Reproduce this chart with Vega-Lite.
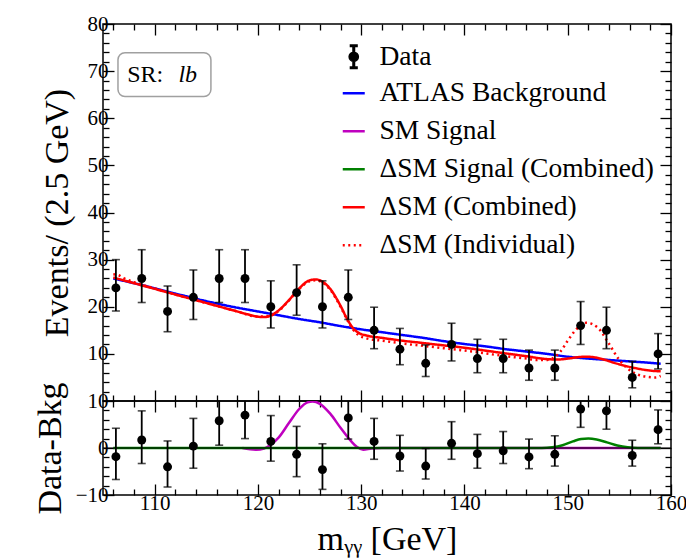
{
  "$schema": "https://vega.github.io/schema/vega-lite/v6.json",
  "background": "white",
  "padding": {"left": 32, "top": 12, "right": 0, "bottom": 4},
  "spacing": 0,
  "bounds": "flush",
  "config": {
    "font": "Liberation Serif",
    "view": {"stroke": "black", "strokeWidth": 1.5},
    "axis": {"grid": false, "domain": false, "labelFont": "Liberation Serif", "labelFontSize": 21, "labelColor": "black", "titleFont": "Liberation Serif", "titleFontSize": 34, "titleFontWeight": "normal", "titleColor": "black", "tickColor": "black", "tickWidth": 1.3, "labelOverlap": false, "labelFlush": false},
    "legend": {"labelFont": "Liberation Serif", "labelFontSize": 27.5, "labelColor": "black", "symbolSize": 484, "rowPadding": 9, "labelOffset": 12, "labelLimit": 500}
  },
  "datasets": {
    "curves": [
      {"x":106,"y":26.0,"s":"ATLAS Background"},{"x":108,"y":25.0,"s":"ATLAS Background"},{"x":110,"y":23.9,"s":"ATLAS Background"},{"x":112,"y":22.8,"s":"ATLAS Background"},{"x":114,"y":21.7,"s":"ATLAS Background"},{"x":116,"y":20.7,"s":"ATLAS Background"},{"x":118,"y":19.8,"s":"ATLAS Background"},{"x":120,"y":19.0,"s":"ATLAS Background"},{"x":122,"y":18.2,"s":"ATLAS Background"},{"x":124,"y":17.4,"s":"ATLAS Background"},{"x":126,"y":16.7,"s":"ATLAS Background"},{"x":128,"y":15.9,"s":"ATLAS Background"},{"x":130,"y":15.2,"s":"ATLAS Background"},{"x":132,"y":14.6,"s":"ATLAS Background"},{"x":134,"y":14.0,"s":"ATLAS Background"},{"x":136,"y":13.4,"s":"ATLAS Background"},{"x":138,"y":12.7,"s":"ATLAS Background"},{"x":140,"y":12.1,"s":"ATLAS Background"},{"x":142,"y":11.6,"s":"ATLAS Background"},{"x":144,"y":11.0,"s":"ATLAS Background"},{"x":146,"y":10.5,"s":"ATLAS Background"},{"x":148,"y":10.0,"s":"ATLAS Background"},{"x":150,"y":9.4,"s":"ATLAS Background"},{"x":152,"y":9.0,"s":"ATLAS Background"},{"x":154,"y":8.7,"s":"ATLAS Background"},{"x":156,"y":8.4,"s":"ATLAS Background"},{"x":158,"y":8.1,"s":"ATLAS Background"},{"x":159,"y":7.9,"s":"ATLAS Background"},
      {"x":106,"y":26.2,"s":"ΔSM (Combined)"},{"x":107,"y":25.6,"s":"ΔSM (Combined)"},{"x":108,"y":25.0,"s":"ΔSM (Combined)"},{"x":110,"y":23.8,"s":"ΔSM (Combined)"},{"x":112,"y":22.6,"s":"ΔSM (Combined)"},{"x":114,"y":21.4,"s":"ΔSM (Combined)"},{"x":116,"y":20.2,"s":"ΔSM (Combined)"},{"x":118,"y":19.0,"s":"ΔSM (Combined)"},{"x":119,"y":18.4,"s":"ΔSM (Combined)"},{"x":120,"y":17.9,"s":"ΔSM (Combined)"},{"x":120.7,"y":17.8,"s":"ΔSM (Combined)"},{"x":121.3,"y":18.2,"s":"ΔSM (Combined)"},{"x":122,"y":19.2,"s":"ΔSM (Combined)"},{"x":123,"y":21.4,"s":"ΔSM (Combined)"},{"x":124,"y":23.9,"s":"ΔSM (Combined)"},{"x":125,"y":25.6,"s":"ΔSM (Combined)"},{"x":125.6,"y":25.8,"s":"ΔSM (Combined)"},{"x":126.2,"y":25.4,"s":"ΔSM (Combined)"},{"x":127,"y":23.8,"s":"ΔSM (Combined)"},{"x":128,"y":20.2,"s":"ΔSM (Combined)"},{"x":128.6,"y":17.6,"s":"ΔSM (Combined)"},{"x":129.2,"y":15.5,"s":"ΔSM (Combined)"},{"x":129.8,"y":14.4,"s":"ΔSM (Combined)"},{"x":130.5,"y":13.9,"s":"ΔSM (Combined)"},{"x":132,"y":13.4,"s":"ΔSM (Combined)"},{"x":134,"y":12.8,"s":"ΔSM (Combined)"},{"x":136,"y":12.3,"s":"ΔSM (Combined)"},{"x":138,"y":11.8,"s":"ΔSM (Combined)"},{"x":140,"y":11.3,"s":"ΔSM (Combined)"},{"x":142,"y":10.7,"s":"ΔSM (Combined)"},{"x":144,"y":10.1,"s":"ΔSM (Combined)"},{"x":146,"y":9.5,"s":"ΔSM (Combined)"},{"x":148,"y":8.9,"s":"ΔSM (Combined)"},{"x":149,"y":8.8,"s":"ΔSM (Combined)"},{"x":150,"y":9.0,"s":"ΔSM (Combined)"},{"x":151,"y":9.3,"s":"ΔSM (Combined)"},{"x":151.8,"y":9.4,"s":"ΔSM (Combined)"},{"x":152.5,"y":9.3,"s":"ΔSM (Combined)"},{"x":153.5,"y":8.8,"s":"ΔSM (Combined)"},{"x":154.5,"y":8.1,"s":"ΔSM (Combined)"},{"x":155.5,"y":7.5,"s":"ΔSM (Combined)"},{"x":156.5,"y":7.0,"s":"ΔSM (Combined)"},{"x":157.5,"y":6.6,"s":"ΔSM (Combined)"},{"x":158.5,"y":6.35,"s":"ΔSM (Combined)"},{"x":159,"y":6.3,"s":"ΔSM (Combined)"},
      {"x":106,"y":26.9,"s":"ΔSM (Individual)"},{"x":106.5,"y":26.7,"s":"ΔSM (Individual)"},{"x":107,"y":26.1,"s":"ΔSM (Individual)"},{"x":108,"y":25.2,"s":"ΔSM (Individual)"},{"x":110,"y":23.9,"s":"ΔSM (Individual)"},{"x":112,"y":22.6,"s":"ΔSM (Individual)"},{"x":114,"y":21.4,"s":"ΔSM (Individual)"},{"x":116,"y":20.2,"s":"ΔSM (Individual)"},{"x":118,"y":19.0,"s":"ΔSM (Individual)"},{"x":120,"y":17.9,"s":"ΔSM (Individual)"},{"x":121,"y":18.0,"s":"ΔSM (Individual)"},{"x":122,"y":19.1,"s":"ΔSM (Individual)"},{"x":123,"y":21.3,"s":"ΔSM (Individual)"},{"x":124,"y":23.8,"s":"ΔSM (Individual)"},{"x":125,"y":25.4,"s":"ΔSM (Individual)"},{"x":125.6,"y":25.6,"s":"ΔSM (Individual)"},{"x":126.2,"y":25.2,"s":"ΔSM (Individual)"},{"x":127,"y":23.6,"s":"ΔSM (Individual)"},{"x":128,"y":20.0,"s":"ΔSM (Individual)"},{"x":128.6,"y":17.4,"s":"ΔSM (Individual)"},{"x":129.2,"y":15.2,"s":"ΔSM (Individual)"},{"x":129.8,"y":13.9,"s":"ΔSM (Individual)"},{"x":130.5,"y":13.3,"s":"ΔSM (Individual)"},{"x":132,"y":12.8,"s":"ΔSM (Individual)"},{"x":134,"y":12.2,"s":"ΔSM (Individual)"},{"x":136,"y":11.7,"s":"ΔSM (Individual)"},{"x":138,"y":11.2,"s":"ΔSM (Individual)"},{"x":140,"y":10.7,"s":"ΔSM (Individual)"},{"x":142,"y":10.1,"s":"ΔSM (Individual)"},{"x":144,"y":9.5,"s":"ΔSM (Individual)"},{"x":146,"y":9.0,"s":"ΔSM (Individual)"},{"x":147,"y":8.7,"s":"ΔSM (Individual)"},{"x":148,"y":8.7,"s":"ΔSM (Individual)"},{"x":148.5,"y":9.0,"s":"ΔSM (Individual)"},{"x":149.3,"y":10.5,"s":"ΔSM (Individual)"},{"x":150,"y":12.8,"s":"ΔSM (Individual)"},{"x":150.7,"y":14.9,"s":"ΔSM (Individual)"},{"x":151.8,"y":16.6,"s":"ΔSM (Individual)"},{"x":152.9,"y":15.6,"s":"ΔSM (Individual)"},{"x":153.9,"y":12.5,"s":"ΔSM (Individual)"},{"x":154.9,"y":9.0,"s":"ΔSM (Individual)"},{"x":155.8,"y":6.9,"s":"ΔSM (Individual)"},{"x":156.8,"y":5.6,"s":"ΔSM (Individual)"},{"x":157.8,"y":5.1,"s":"ΔSM (Individual)"},{"x":158.5,"y":5.0,"s":"ΔSM (Individual)"},{"x":159,"y":5.3,"s":"ΔSM (Individual)"},
      {"x":118.5,"y":0,"s":"SM Signal"},{"x":119.8,"y":-0.35,"s":"SM Signal"},{"x":120.6,"y":-0.1,"s":"SM Signal"},{"x":121.3,"y":0.8,"s":"SM Signal"},{"x":122,"y":2.2,"s":"SM Signal"},{"x":123,"y":5.3,"s":"SM Signal"},{"x":124,"y":8.3,"s":"SM Signal"},{"x":124.8,"y":9.7,"s":"SM Signal"},{"x":125.3,"y":9.9,"s":"SM Signal"},{"x":126,"y":9.4,"s":"SM Signal"},{"x":127,"y":7.3,"s":"SM Signal"},{"x":128,"y":4.3,"s":"SM Signal"},{"x":129,"y":1.5,"s":"SM Signal"},{"x":129.6,"y":0.2,"s":"SM Signal"},{"x":130.2,"y":-0.35,"s":"SM Signal"},{"x":131,"y":-0.1,"s":"SM Signal"},{"x":132,"y":0,"s":"SM Signal"},{"x":159,"y":0,"s":"SM Signal"},
      {"x":106,"y":0,"s":"ΔSM Signal (Combined)"},{"x":147.5,"y":0,"s":"ΔSM Signal (Combined)"},{"x":148.5,"y":0.15,"s":"ΔSM Signal (Combined)"},{"x":149.5,"y":0.6,"s":"ΔSM Signal (Combined)"},{"x":150.5,"y":1.4,"s":"ΔSM Signal (Combined)"},{"x":151.3,"y":1.9,"s":"ΔSM Signal (Combined)"},{"x":152,"y":2.0,"s":"ΔSM Signal (Combined)"},{"x":152.8,"y":1.8,"s":"ΔSM Signal (Combined)"},{"x":153.8,"y":1.2,"s":"ΔSM Signal (Combined)"},{"x":154.8,"y":0.55,"s":"ΔSM Signal (Combined)"},{"x":155.8,"y":0.15,"s":"ΔSM Signal (Combined)"},{"x":156.8,"y":0,"s":"ΔSM Signal (Combined)"},{"x":159,"y":0,"s":"ΔSM Signal (Combined)"}
    ],
    "points": [
      {"m":106.25,"n":24,"lo":19.1,"hi":30.0,"r":-1.85,"rlo":-6.7,"rhi":4.2},
      {"m":108.75,"n":26,"lo":20.9,"hi":32.1,"r":1.7,"rlo":-3.3,"rhi":7.9},
      {"m":111.25,"n":19,"lo":14.7,"hi":24.4,"r":-4.0,"rlo":-8.3,"rhi":1.5},
      {"m":113.75,"n":22,"lo":17.3,"hi":27.8,"r":0.4,"rlo":-4.3,"rhi":6.3},
      {"m":116.25,"n":26,"lo":20.9,"hi":32.1,"r":5.8,"rlo":0.6,"rhi":11.9},
      {"m":118.75,"n":26,"lo":20.9,"hi":32.1,"r":7.0,"rlo":2.0,"rhi":13.1},
      {"m":121.25,"n":20,"lo":15.5,"hi":25.5,"r":1.4,"rlo":-2.8,"rhi":6.9},
      {"m":123.75,"n":23,"lo":18.2,"hi":28.9,"r":-1.35,"rlo":-6.1,"rhi":4.6},
      {"m":126.25,"n":20,"lo":15.5,"hi":25.5,"r":-4.6,"rlo":-8.8,"rhi":0.9},
      {"m":128.75,"n":22,"lo":17.3,"hi":27.8,"r":6.4,"rlo":1.9,"rhi":12.2},
      {"m":131.25,"n":15,"lo":11.1,"hi":19.9,"r":1.4,"rlo":-2.4,"rhi":6.3},
      {"m":133.75,"n":11,"lo":7.7,"hi":15.4,"r":-1.7,"rlo":-4.9,"rhi":2.7},
      {"m":136.25,"n":8,"lo":5.2,"hi":11.9,"r":-3.85,"rlo":-6.6,"rhi":-0.1},
      {"m":138.75,"n":12,"lo":8.5,"hi":16.5,"r":1.0,"rlo":-2.4,"rhi":5.6},
      {"m":141.25,"n":9,"lo":6.0,"hi":13.1,"r":-1.2,"rlo":-4.3,"rhi":2.9},
      {"m":143.75,"n":9,"lo":6.0,"hi":13.1,"r":-0.6,"rlo":-3.3,"rhi":3.5},
      {"m":146.25,"n":7,"lo":4.4,"hi":10.8,"r":-1.9,"rlo":-4.4,"rhi":1.9},
      {"m":148.75,"n":7,"lo":4.4,"hi":10.8,"r":-1.35,"rlo":-3.85,"rhi":2.6},
      {"m":151.25,"n":16,"lo":12.0,"hi":21.1,"r":8.3,"rlo":4.4,"rhi":13.4},
      {"m":153.75,"n":15,"lo":11.1,"hi":19.9,"r":7.9,"rlo":4.0,"rhi":12.8},
      {"m":156.25,"n":5,"lo":2.8,"hi":8.4,"r":-1.6,"rlo":-3.85,"rhi":1.65},
      {"m":158.75,"n":10,"lo":6.8,"hi":14.3,"r":3.9,"rlo":0.9,"rhi":8.1}
    ]
  },
  "vconcat": [
    {
      "width": 568,
      "height": 377,
      "resolve": {"axis": {"x": "independent", "y": "independent"}},
      "layer": [
        {
          "data": {"name": "curves"},
          "transform": [{"filter": "datum.s === 'ATLAS Background' || datum.s === 'ΔSM (Combined)' || datum.s === 'ΔSM (Individual)'"}],
          "mark": {"type": "line", "strokeWidth": 2.5, "interpolate": "monotone"},
          "encoding": {
            "x": {"field": "x", "type": "quantitative", "scale": {"domain": [105, 160], "nice": false, "zero": false},
              "axis": {"orient": "bottom", "values": [106,108,110,112,114,116,118,120,122,124,126,128,130,132,134,136,138,140,142,144,146,148,150,152,154,156,158,160], "labels": false, "title": null,
                "tickSize": {"condition": {"test": "datum.value % 10 === 0", "value": -11}, "value": -6}}},
            "y": {"field": "y", "type": "quantitative", "scale": {"domain": [0, 80], "nice": false, "zero": false},
              "axis": {"orient": "left", "values": [2,4,6,8,10,12,14,16,18,20,22,24,26,28,30,32,34,36,38,40,42,44,46,48,50,52,54,56,58,60,62,64,66,68,70,72,74,76,78,80],
                "labelExpr": "datum.value % 10 === 0 ? datum.label : ''", "labelPadding": 6, "title": "Events/ (2.5 GeV)", "titlePadding": 13,
                "tickSize": {"condition": {"test": "datum.value % 10 === 0", "value": -11}, "value": -6}}},
            "color": {"field": "s", "type": "nominal",
              "scale": {"domain": ["ATLAS Background", "SM Signal", "ΔSM Signal (Combined)", "ΔSM (Combined)", "ΔSM (Individual)"],
                "range": ["#0000ff", "#bf00bf", "#008000", "#ff0000", "#ff0000"]},
              "legend": {"orient": "none", "legendX": 237, "legendY": 55.5, "title": null, "symbolType": "stroke", "symbolStrokeWidth": 2.5, "labelFont": "Liberation Serif"}},
            "strokeDash": {"field": "s", "type": "nominal",
              "scale": {"domain": ["ATLAS Background", "SM Signal", "ΔSM Signal (Combined)", "ΔSM (Combined)", "ΔSM (Individual)"],
                "range": [[1, 0], [1, 0], [1, 0], [1, 0], [2, 3.5]]},
              "legend": {"orient": "none", "legendX": 237, "legendY": 55.5, "title": null, "symbolType": "stroke", "symbolStrokeWidth": 2.5, "labelFont": "Liberation Serif"}}
          }
        },
        {
          "data": {"name": "points"},
          "transform": [{"filter": "datum.n < 0"}],
          "mark": {"type": "point", "filled": true, "color": "black", "stroke": "black", "strokeWidth": 0.5, "opacity": 1},
          "encoding": {
            "x": {"field": "m", "type": "quantitative",
              "axis": {"orient": "top", "values": [106,108,110,112,114,116,118,120,122,124,126,128,130,132,134,136,138,140,142,144,146,148,150,152,154,156,158,160], "labels": false, "title": null,
                "tickSize": {"condition": {"test": "datum.value % 10 === 0", "value": -11}, "value": -6}}},
            "y": {"field": "n", "type": "quantitative",
              "axis": {"orient": "right", "values": [2,4,6,8,10,12,14,16,18,20,22,24,26,28,30,32,34,36,38,40,42,44,46,48,50,52,54,56,58,60,62,64,66,68,70,72,74,76,78,80], "labels": false, "title": null,
                "tickSize": {"condition": {"test": "datum.value % 10 === 0", "value": -11}, "value": -6}}},
            "shape": {"datum": "Data", "type": "nominal",
              "scale": {"domain": ["Data"], "range": ["M-0.07,-1H0.07V1H-0.07ZM-0.3,-1.07H0.3V-0.93H-0.3ZM-0.3,0.93H0.3V1.07H-0.3ZM0.42,0A0.42,0.42,0,1,1,-0.42,0A0.42,0.42,0,1,1,0.42,0Z"]},
              "legend": {"orient": "none", "legendX": 237, "legendY": 19, "title": null, "labelFont": "Liberation Serif"}}
          }
        },
        {
          "data": {"name": "points"},
          "mark": {"type": "rule", "color": "black", "strokeWidth": 1.8},
          "encoding": {
            "x": {"field": "m", "type": "quantitative", "axis": null},
            "y": {"field": "lo", "type": "quantitative", "axis": null},
            "y2": {"field": "hi"}
          }
        },
        {
          "data": {"name": "points"},
          "mark": {"type": "tick", "orient": "horizontal", "color": "black", "size": 8, "thickness": 1.6},
          "encoding": {
            "x": {"field": "m", "type": "quantitative", "axis": null},
            "y": {"field": "lo", "type": "quantitative", "axis": null}
          }
        },
        {
          "data": {"name": "points"},
          "mark": {"type": "tick", "orient": "horizontal", "color": "black", "size": 8, "thickness": 1.6},
          "encoding": {
            "x": {"field": "m", "type": "quantitative", "axis": null},
            "y": {"field": "hi", "type": "quantitative", "axis": null}
          }
        },
        {
          "data": {"name": "points"},
          "mark": {"type": "circle", "color": "black", "opacity": 1, "size": 80},
          "encoding": {
            "x": {"field": "m", "type": "quantitative", "axis": null},
            "y": {"field": "n", "type": "quantitative", "axis": null}
          }
        },
        {
          "data": {"values": [{"x1": 106.45, "x2": 115.45, "y1": 64.6, "y2": 73.9}]},
          "mark": {"type": "rect", "fill": "white", "stroke": "#a0a0a0", "strokeWidth": 1.5, "cornerRadius": 7},
          "encoding": {
            "x": {"field": "x1", "type": "quantitative", "axis": null},
            "x2": {"field": "x2"},
            "y": {"field": "y1", "type": "quantitative", "axis": null},
            "y2": {"field": "y2"}
          }
        },
        {
          "data": {"values": [{"x": 107.35, "y": 69.2, "t": "SR:"}]},
          "mark": {"type": "text", "align": "left", "baseline": "middle", "fontSize": 24, "font": "Liberation Serif", "color": "black"},
          "encoding": {
            "x": {"field": "x", "type": "quantitative", "axis": null},
            "y": {"field": "y", "type": "quantitative", "axis": null},
            "text": {"field": "t"}
          }
        },
        {
          "data": {"values": [{"x": 112.3, "y": 69.2, "t": "lb"}]},
          "mark": {"type": "text", "align": "left", "baseline": "middle", "fontSize": 24, "font": "Liberation Serif", "fontStyle": "italic", "color": "black"},
          "encoding": {
            "x": {"field": "x", "type": "quantitative", "axis": null},
            "y": {"field": "y", "type": "quantitative", "axis": null},
            "text": {"field": "t"}
          }
        }
      ]
    },
    {
      "width": 568,
      "height": 94,
      "resolve": {"axis": {"x": "independent", "y": "independent"}},
      "layer": [
        {
          "data": {"name": "curves"},
          "transform": [{"filter": "datum.s === 'SM Signal'"}],
          "mark": {"type": "line", "strokeWidth": 2.5, "interpolate": "monotone", "stroke": "#bf00bf", "clip": true},
          "encoding": {
            "x": {"field": "x", "type": "quantitative", "scale": {"domain": [105, 160], "nice": false, "zero": false},
              "axis": {"orient": "bottom", "values": [106,108,110,112,114,116,118,120,122,124,126,128,130,132,134,136,138,140,142,144,146,148,150,152,154,156,158,160],
                "labelExpr": "datum.value % 10 === 0 ? datum.label : ''", "labelPadding": 8, "title": "mᵧᵧ [GeV]", "titlePadding": 4,
                "tickSize": {"condition": {"test": "datum.value % 10 === 0", "value": -11}, "value": -6}}},
            "y": {"field": "y", "type": "quantitative", "scale": {"domain": [-10, 10], "nice": false, "zero": false},
              "axis": {"orient": "left", "values": [-10,-8,-6,-4,-2,0,2,4,6,8,10],
                "labelExpr": "datum.value % 10 === 0 ? (datum.value < 0 ? '−' + format(-datum.value, 'd') : datum.label) : ''", "labelPadding": 6, "title": "Data-Bkg", "titlePadding": 8,
                "tickSize": {"condition": {"test": "datum.value % 10 === 0", "value": -11}, "value": -6}}}
          }
        },
        {
          "data": {"name": "curves"},
          "transform": [{"filter": "datum.s === 'ΔSM Signal (Combined)'"}],
          "mark": {"type": "line", "strokeWidth": 2.5, "interpolate": "monotone", "stroke": "#008000", "clip": true},
          "encoding": {
            "x": {"field": "x", "type": "quantitative",
              "axis": {"orient": "top", "values": [106,108,110,112,114,116,118,120,122,124,126,128,130,132,134,136,138,140,142,144,146,148,150,152,154,156,158,160], "labels": false, "title": null,
                "tickSize": {"condition": {"test": "datum.value % 10 === 0", "value": -11}, "value": -6}}},
            "y": {"field": "y", "type": "quantitative",
              "axis": {"orient": "right", "values": [-10,-8,-6,-4,-2,0,2,4,6,8,10], "labels": false, "title": null,
                "tickSize": {"condition": {"test": "datum.value % 10 === 0", "value": -11}, "value": -6}}}
          }
        },
        {
          "data": {"values": [{"z": 0}]},
          "mark": {"type": "rule", "color": "black", "strokeWidth": 1.1},
          "encoding": {"y": {"field": "z", "type": "quantitative", "axis": null}}
        },
        {
          "data": {"name": "points"},
          "mark": {"type": "rule", "color": "black", "strokeWidth": 1.8, "clip": true},
          "encoding": {
            "x": {"field": "m", "type": "quantitative", "axis": null},
            "y": {"field": "rlo", "type": "quantitative", "axis": null},
            "y2": {"field": "rhi"}
          }
        },
        {
          "data": {"name": "points"},
          "mark": {"type": "tick", "orient": "horizontal", "color": "black", "size": 8, "thickness": 1.6, "clip": true},
          "encoding": {
            "x": {"field": "m", "type": "quantitative", "axis": null},
            "y": {"field": "rlo", "type": "quantitative", "axis": null}
          }
        },
        {
          "data": {"name": "points"},
          "mark": {"type": "tick", "orient": "horizontal", "color": "black", "size": 8, "thickness": 1.6, "clip": true},
          "encoding": {
            "x": {"field": "m", "type": "quantitative", "axis": null},
            "y": {"field": "rhi", "type": "quantitative", "axis": null}
          }
        },
        {
          "data": {"name": "points"},
          "mark": {"type": "circle", "color": "black", "opacity": 1, "size": 80},
          "encoding": {
            "x": {"field": "m", "type": "quantitative", "axis": null},
            "y": {"field": "r", "type": "quantitative", "axis": null}
          }
        }
      ]
    }
  ]
}
